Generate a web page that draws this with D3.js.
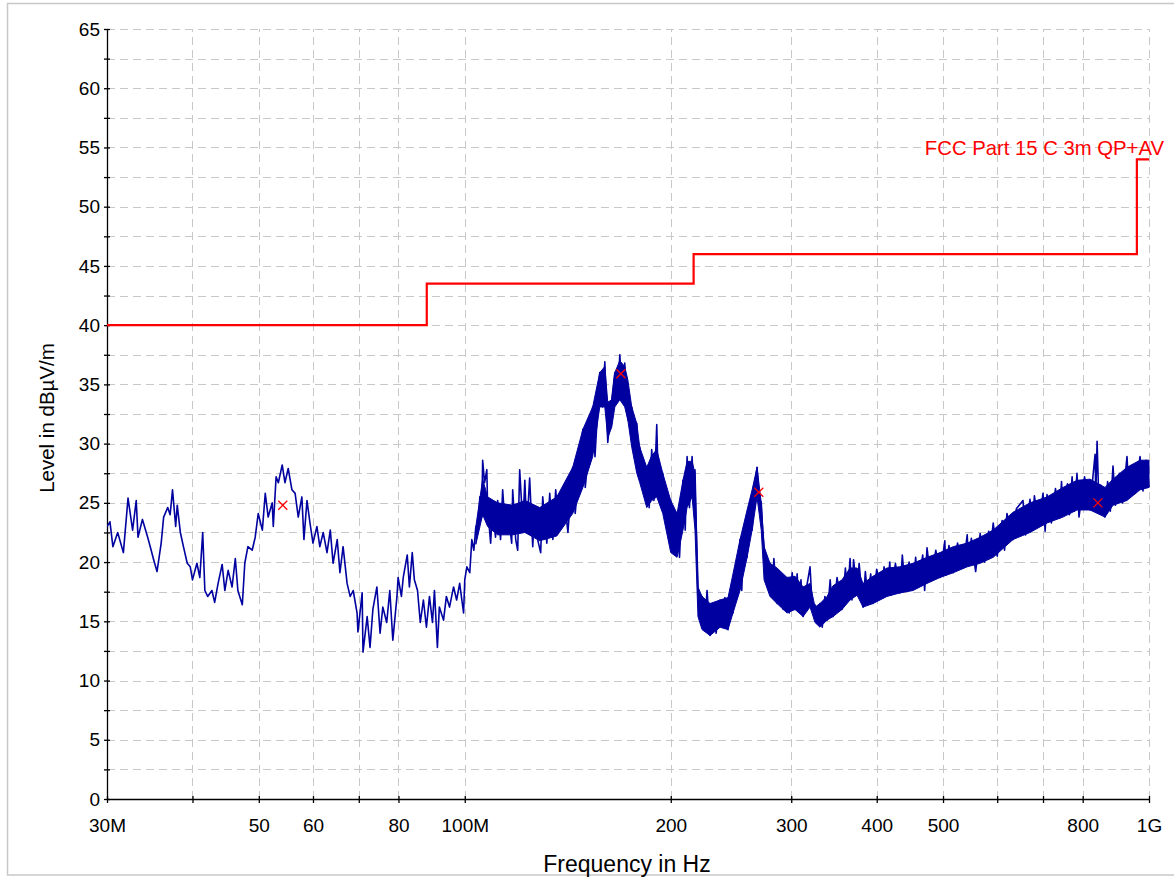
<!DOCTYPE html>
<html>
<head>
<meta charset="utf-8">
<script src="https://cdn.jsdelivr.net/npm/d3@7"></script>
<style>
  html, body { margin: 0; padding: 0; background: #fff; }
  svg { display: block; }
  text { font-family: "Liberation Sans", Arial, sans-serif; }
</style>
</head>
<body>
<svg id="chart" width="1174" height="877"></svg>
<script>
// ---------- DATA (MHz, dBµV/m) ----------
const xTickValues = [30, 40, 50, 60, 70, 80, 100, 200, 300, 400, 500, 600, 700, 800, 1000];
const xTickLabels = {30: "30M", 50: "50", 60: "60", 80: "80", 100: "100M", 200: "200", 300: "300", 400: "400", 500: "500", 800: "800", 1000: "1G"};
const yTickValues = [0, 5, 10, 15, 20, 25, 30, 35, 40, 45, 50, 55, 60, 65];
const yMinorValues = [2.5, 7.5, 12.5, 17.5, 22.5, 27.5, 32.5, 37.5, 42.5, 47.5, 52.5, 57.5, 62.5];

const limitFreq  = [30, 88, 216, 960, 1000];
const limitLevel = [40, 43.5, 46, 54, 54];
const limitName = "FCC Part 15 C 3m QP+AV";

const markerFreq  = [54.2, 169.1, 269, 842];
const markerLevel = [24.8, 35.9, 25.9, 25.0];

// measured trace, 30-100 MHz
const trace30to100 = [
 [30.0,23.0],[30.3,23.4],[30.6,21.3],[31.1,22.5],[31.7,20.8],[32.2,25.4],[32.7,22.7],[33.1,25.2],[33.3,22.1],[33.8,23.6],
 [34.4,22.1],[34.7,21.3],[35.1,20.2],[35.5,19.2],[36.0,21.6],[36.3,23.8],[36.8,24.6],[37.1,24.0],[37.4,26.1],[37.8,23.0],
 [38.0,24.8],[38.4,22.5],[38.8,21.3],[39.3,19.9],[39.7,19.6],[40.0,18.5],[40.6,19.9],[41.0,18.7],[41.4,22.5],[41.7,17.6],
 [42.1,17.1],[42.7,17.6],[43.1,16.6],[43.6,18.2],[44.2,19.8],[44.6,17.6],[45.1,19.3],[45.7,17.9],[46.2,20.3],[46.6,17.6],
 [47.3,16.4],[47.7,19.9],[48.2,21.3],[48.9,21.0],[49.4,22.1],[49.9,24.1],[50.6,22.7],[51.1,25.8],[51.6,23.8],[52.3,25.0],
 [52.5,23.0],[53.0,27.2],[53.4,26.7],[54.1,28.2],[54.6,26.7],[55.2,27.9],[55.9,26.1],[56.5,25.8],[57.1,23.8],[57.8,25.5],
 [58.2,21.9],[58.8,25.2],[59.4,23.3],[60.0,21.6],[60.8,23.0],[61.4,21.3],[62.1,22.5],[62.9,20.8],[63.6,22.7],[64.2,19.9],
 [65.1,21.9],[65.7,19.1],[66.4,21.3],[67.3,18.2],[68.0,17.1],[68.7,17.6],[69.6,15.7],[69.8,14.1],[70.8,17.4],[71.0,12.4],
 [72.0,15.4],[72.7,12.8],[73.4,16.0],[74.4,17.9],[75.2,14.0],[75.9,16.2],[76.9,14.9],[77.7,17.6],[78.5,13.4],[79.6,17.1],
 [79.9,18.7],[80.8,17.1],[81.3,18.7],[82.4,20.6],[83.0,17.9],[83.8,20.8],[84.4,18.5],[85.3,17.6],[86.1,14.9],[87.0,16.8],
 [87.9,14.5],[88.8,17.1],[89.7,14.9],[90.3,17.6],[91.2,12.8],[91.8,16.2],[93.1,15.1],[94.0,17.1],[95.0,16.2],[96.3,17.9],
 [97.3,16.8],[98.3,18.2],[99.6,15.7]
];
// measured trace, 100-220 MHz
const trace100to220 = [
 [100.0,18.5],[100.7,19.6],[101.7,19.1],[102.4,21.9],[103.1,21.0],[103.8,23.0],[104.5,22.5],[105.2,25.5],[105.9,23.8],[106.2,28.6],
 [106.9,26.7],[107.7,27.8],[108.0,24.6],[109.1,21.6],[109.8,24.6],[110.9,22.1],[111.7,25.2],[112.8,21.9],[113.6,26.1],[114.7,22.5],
 [115.5,24.6],[117.1,21.6],[117.5,26.1],[118.7,21.9],[119.5,21.0],[120.3,27.8],[121.6,23.0],[122.4,26.9],[123.2,22.7],[124.4,27.1],
 [125.7,21.3],[126.5,24.6],[127.8,21.9],[129.1,20.8],[130.0,25.5],[131.8,21.6],[133.1,25.8],[134.5,21.9],[135.8,26.1],[137.2,23.0],
 [140.0,25.0],[141.5,22.5],[143.8,28.0],[145.0,24.1],[148.8,31.2],[150.0,26.3],[153.8,33.1],[155.0,28.9],[157.5,36.0],[159.0,33.1],
 [160.2,36.9],[161.8,30.1],[164.0,33.7],[165.7,36.0],[167.0,33.5],[168.5,37.5],[170.0,33.7],[171.3,36.8],[173.1,32.0],[175.4,33.1],
 [176.5,29.7],[178.4,31.7],[179.0,27.5],[180.2,29.7],[182.0,26.7],[184.5,28.0],[186.0,24.6],[187.6,29.5],[189.0,25.2],[190.8,31.6],
 [192.0,25.5],[194.7,27.5],[196.0,24.1],[200.0,25.2],[202.0,20.8],[204.3,24.1],[206.0,20.4],[208.4,26.9],[210.0,22.7],[211.3,28.9],
 [213.0,24.6],[214.9,28.9],[216.0,25.5],[217.0,27.8],[218.0,22.7],[219.2,17.9]
];
// measured trace, 220 MHz - 1 GHz
const trace220to1000 = [
 [220.0,15.4],[222.2,17.1],[224.0,14.3],[226.0,17.6],[228.3,13.8],[231.0,16.5],[233.0,14.0],[236.1,16.8],[238.0,14.5],[240.0,17.0],
 [242.5,14.3],[244.0,17.4],[246.6,15.7],[248.0,19.3],[250.0,17.0],[252.5,21.9],[254.0,17.6],[256.0,23.0],[258.6,20.4],[260.0,24.4],
 [263.0,22.7],[265.0,26.1],[267.4,28.0],[269.0,25.5],[271.2,25.0],[272.5,22.7],[273.8,21.3],[276.0,18.5],[279.3,19.9],[281.0,17.1],
 [283.0,20.3],[286.0,16.5],[289.0,19.0],[292.0,16.0],[295.8,18.7],[298.0,15.7],[301.0,19.1],[304.0,16.0],[306.0,19.0],[308.0,16.5],
 [310.0,18.5],[312.2,15.4],[316.0,17.9],[319.6,19.6],[322.0,16.2],[325.0,16.4],[327.0,14.9],[330.5,16.5],[333.0,14.5],[336.0,17.1],
 [338.4,15.1],[342.0,18.5],[345.3,15.4],[350.0,18.7],[355.9,16.0],[360.0,19.5],[362.5,17.0],[365.7,20.3],[368.0,16.8],[370.0,20.2],
 [374.4,17.4],[377.0,19.9],[382.0,16.2],[385.0,19.2],[388.0,17.0],[392.0,19.0],[395.0,16.5],[400.0,19.4],[407.0,17.1],[410.0,19.6],
 [414.1,17.3],[418.0,20.0],[420.0,17.2],[426.0,19.9],[432.6,17.4],[436.0,20.6],[440.0,17.9],[446.0,20.0],[452.0,17.8],[456.0,20.4],
 [460.0,18.0],[467.0,20.6],[470.0,17.6],[473.8,21.2],[480.0,18.4],[488.0,21.0],[495.0,18.7],[503.0,21.8],[505.0,18.9],[510.0,21.4],
 [517.4,19.1],[525.0,21.6],[535.0,19.5],[542.4,22.3],[545.0,19.7],[550.0,22.0],[558.0,19.2],[566.6,22.4],[575.0,20.0],[583.0,22.6],
 [585.0,20.4],[592.0,23.3],[600.0,20.5],[610.0,23.5],[615.0,21.0],[620.0,24.1],[632.7,21.9],[640.0,24.5],[654.4,25.2],[660.0,22.3],
 [670.0,25.3],[675.0,22.8],[680.0,25.6],[690.0,23.0],[700.0,25.8],[705.0,22.6],[709.5,25.7],[720.0,23.3],[730.0,26.2],[740.0,23.7],
 [745.0,26.8],[748.7,24.0],[760.0,26.6],[765.0,24.0],[772.0,27.2],[778.0,24.3],[784.8,27.5],[790.0,23.8],[805.0,27.2],[819.9,24.4],
 [828.0,27.2],[834.1,29.1],[836.0,25.5],[839.7,30.2],[845.0,24.8],[850.0,26.5],[862.4,23.8],[870.0,26.8],[878.0,24.3],[885.9,28.1],
 [893.0,24.8],[905.0,27.5],[915.0,25.0],[928.6,28.9],[935.0,25.6],[945.0,28.2],[955.0,25.8],[970.2,28.9],[980.0,26.0],[990.0,28.6],
 [1000.0,26.3]
];
// dense part of the sweep: [MHz, lower edge, upper edge]
const traceBand = [
 [103.8,21.5,23.0],[106.2,24.0,27.0],[108.0,23.0,25.5],[111.7,22.3,25.0],[117.5,22.3,24.8],[122.4,22.5,25.2],[128.7,21.8,24.6],
 [136.3,22.2,25.5],[143.8,24.1,28.0],[148.8,26.3,31.2],[153.8,28.9,33.1],[157.5,33.1,36.0],[160.2,33.1,36.5],[161.8,30.5,33.5],
 [164.0,31.4,33.7],[165.7,33.1,36.0],[168.5,33.7,37.0],[171.3,33.1,36.5],[173.1,32.0,35.4],[175.4,29.7,33.1],[178.4,27.5,31.7],
 [180.2,26.7,29.7],[184.5,24.6,28.0],[187.6,25.2,29.0],[190.8,25.5,29.5],[194.7,24.1,27.5],[200.0,20.8,25.2],[204.3,20.4,24.1],
 [208.4,22.7,26.9],[211.3,24.6,28.5],[214.9,25.5,28.5],[217.0,22.7,27.5],[219.2,15.4,17.9],[222.2,14.3,17.1],[228.3,13.8,16.5],
 [236.1,14.5,16.8],[242.5,14.3,17.0],[246.6,15.7,19.0],[252.5,17.6,21.9],[258.6,20.4,24.4],[263.0,22.7,26.1],[267.4,25.5,28.0],
 [271.2,22.7,25.0],[273.8,18.5,21.3],[279.3,17.1,19.9],[286.0,16.5,19.5],[295.8,15.7,18.7],[303.9,16.0,18.8],[312.2,15.4,17.9],
 [319.6,16.2,18.2],[325.0,14.9,16.2],[330.5,14.5,16.5],[338.4,15.1,17.1],[345.3,15.4,18.0],[355.9,16.0,18.5],[365.7,16.8,19.5],
 [374.4,17.2,19.5],[382.0,16.2,18.2],[395.0,16.5,18.8],[414.1,17.1,19.5],[432.6,17.4,19.6],[452.0,17.6,19.9],[473.8,18.2,20.4],
 [495.0,18.7,20.8],[517.4,19.1,21.3],[542.4,19.6,21.6],[566.6,19.9,22.1],[592.0,20.4,22.7],[632.7,21.9,24.2],[670.0,22.5,25.0],
 [709.5,23.3,25.5],[748.7,23.8,26.3],[784.8,24.4,26.9],[819.9,24.4,27.0],[862.4,23.8,26.3],[885.9,24.8,27.0],[928.6,25.2,28.0],
 [970.2,26.1,28.6],[1000.0,26.3,28.6]
];

// ---------- DRAW ----------
const L = 107, R = 1149, T = 29, B = 799;
const traceColor = "#0000a0", limitColor = "#ff0000", gridColor = "#c8c8c8";
const svg = d3.select("#chart");

// outer frame
svg.append("rect").attr("x", 7.5).attr("y", 3.5).attr("width", 1175).attr("height", 871.5)
  .attr("fill", "#fff").attr("stroke", "#c8c8c8").attr("stroke-width", 1.5);

const x = d3.scaleLog().domain([30, 1000]).range([L, R]);
const y = d3.scaleLinear().domain([0, 65]).range([B, T]);

// grid
const grid = svg.append("g").attr("stroke", gridColor).attr("stroke-width", 1).attr("stroke-dasharray", "8,5").attr("fill", "none");
grid.selectAll("line.h").data(yMinorValues.concat(yTickValues.filter(v => v > 0))).join("line")
  .attr("x1", L).attr("x2", R).attr("y1", d => Math.round(y(d)) + 0.5).attr("y2", d => Math.round(y(d)) + 0.5);
grid.selectAll("line.v").data(xTickValues.filter(v => v > 30)).join("line")
  .attr("y1", B).attr("y2", T).attr("x1", d => Math.round(x(d)) + 0.5).attr("x2", d => Math.round(x(d)) + 0.5);

// axes
const fontSize = 19;
const xAxis = d3.axisBottom(x).tickValues(xTickValues).tickFormat(d => xTickLabels[d] || "").tickSizeOuter(0).tickSizeInner(4).tickPadding(16);
const gx = svg.append("g").attr("transform", `translate(0,${B})`).call(xAxis);
gx.select(".domain").attr("stroke", "#000").attr("stroke-width", 1.3).attr("d", `M${L},0.5H${R}`);
gx.selectAll(".tick line").attr("y1", -3).attr("y2", 4).attr("stroke", "#000").attr("stroke-width", 1.3);
gx.selectAll(".tick text").attr("font-size", fontSize).attr("fill", "#000").attr("font-family", '"Liberation Sans", Arial, sans-serif');

const yAxis = d3.axisLeft(y).tickValues(yTickValues.concat(yMinorValues)).tickFormat(d => Number.isInteger(d) ? d : "").tickSizeOuter(0).tickSizeInner(3).tickPadding(4);
const gy = svg.append("g").attr("transform", `translate(${L},0)`).call(yAxis);
gy.select(".domain").attr("stroke", "#000").attr("stroke-width", 1.3).attr("d", `M0.5,${B}V${T}`);
gy.selectAll(".tick line").attr("x1", -3).attr("x2", 3).attr("stroke", "#000").attr("stroke-width", 1.3);
gy.selectAll(".tick text").attr("font-size", fontSize).attr("fill", "#000").attr("font-family", '"Liberation Sans", Arial, sans-serif');

// axis titles
svg.append("text").attr("transform", "translate(54,418) rotate(-90)").attr("text-anchor", "middle")
  .attr("font-size", 20.5).attr("fill", "#000").text("Level in dBµV/m");
svg.append("text").attr("x", (L + R) / 2 - 1).attr("y", 872).attr("text-anchor", "middle")
  .attr("font-size", 23).attr("fill", "#000").text("Frequency in Hz");

// clip
svg.append("clipPath").attr("id", "plot").append("rect").attr("x", L).attr("y", T - 2).attr("width", R - L + 2).attr("height", B - T + 2);
const plot = svg.append("g").attr("clip-path", "url(#plot)");

// trace band
plot.append("path").datum(traceBand)
  .attr("d", d3.area().x(d => x(d[0])).y0(d => y(d[1])).y1(d => y(d[2])))
  .attr("fill", traceColor).attr("stroke", traceColor).attr("stroke-width", 1);

// trace line
const trace = trace30to100.concat(trace100to220, trace220to1000);
plot.append("path").datum(trace)
  .attr("d", d3.line().x(d => x(d[0])).y(d => y(d[1])))
  .attr("fill", "none").attr("stroke", traceColor).attr("stroke-width", 1.6).attr("stroke-linejoin", "round");

// limit
const limitData = limitFreq.map((f, i) => [f, limitLevel[i]]);
svg.append("path").datum(limitData)
  .attr("d", d3.line().x(d => x(d[0])).y(d => y(d[1])).curve(d3.curveStepAfter))
  .attr("fill", "none").attr("stroke", limitColor).attr("stroke-width", 2.2);
svg.append("text").attr("x", 1164).attr("y", 155).attr("text-anchor", "end")
  .attr("font-size", 20.3).attr("fill", limitColor).text(limitName);

// markers
const mk = svg.append("g").attr("stroke", limitColor).attr("stroke-width", 1.3);
markerFreq.forEach((f, i) => {
  const cx = x(f), cy = y(markerLevel[i]), s = 4.5;
  mk.append("line").attr("x1", cx - s).attr("y1", cy - s).attr("x2", cx + s).attr("y2", cy + s);
  mk.append("line").attr("x1", cx - s).attr("y1", cy + s).attr("x2", cx + s).attr("y2", cy - s);
});
</script>
</body>
</html>
